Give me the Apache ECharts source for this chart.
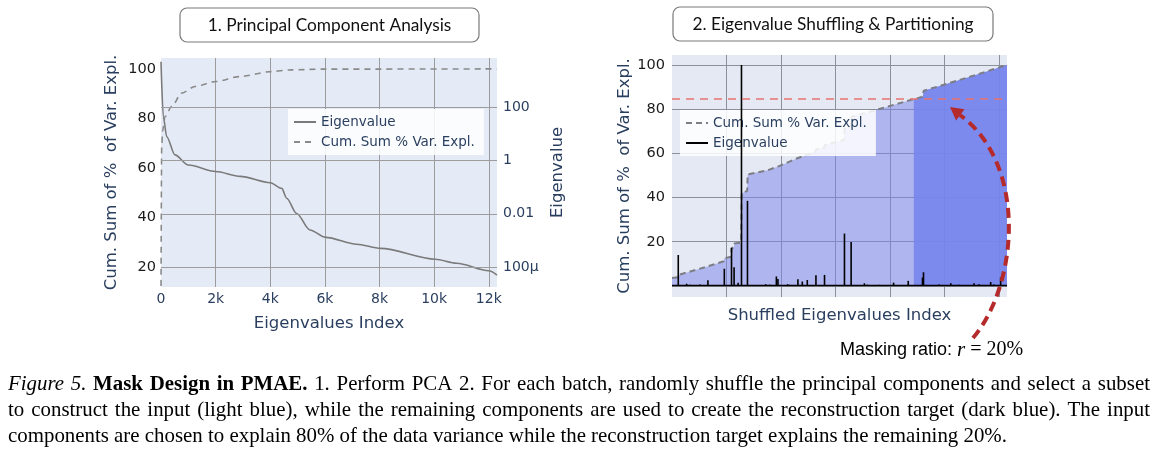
<!DOCTYPE html>
<html>
<head>
<meta charset="utf-8">
<script src="https://cdn.jsdelivr.net/npm/echarts@6/dist/echarts.min.js"></script>
<style>
  html, body { margin: 0; padding: 0; background: #fff; }
  #main { width: 1156px; height: 460px; }
</style>
</head>
<body>
<div id="main"></div>
<script>
// Panel 1: PCA, eigenvalue (log, right axis) and cumulative % variance (left axis)
const pcaIdx = [0, 85, 210, 510, 1000, 2000, 2900, 4000, 4420, 4600, 4965, 5450, 6030, 7160, 8040, 10040, 10820, 12000, 12300];
const pcaEig = [5000, 43, 7.7, 1.6, 0.67, 0.38, 0.25, 0.145, 0.089, 0.038, 0.0102, 0.00245, 0.00129, 0.00071, 0.0005, 0.000195, 0.000138, 0.0000724, 0.00005];
const pcaCumIdx = [0, 25, 60, 146, 390, 757, 1244, 2013, 2890, 4025, 4720, 5930, 12300];
const pcaCum = [8, 68.6, 75, 80.7, 84.8, 90.2, 92.9, 94.9, 96.9, 98.9, 99.6, 99.9, 100];
const pcaEigTicks = [100, 1, 0.01, 0.0001];
const pcaEigTickText = { '2': '100', '0': '1', '-2': '0.01', '-4': '100μ' };
const pcaEigMin = 1.78e-5, pcaEigMax = 6900;
const idxMax = 12300;

// Panel 2: shuffled eigenvalues, cumulative % and the input / target split
const shufCumIdx = [0, 220, 240, 1300, 1900, 1930, 2170, 2190, 2270, 2290, 2540, 2560, 2760, 2780, 3500, 3950, 4600, 5260, 5280, 5590, 5610, 6320, 6340, 6570, 6590, 7357, 8870, 9210, 9240, 10850, 12300];
const shufCum = [3.6, 3.9, 5.0, 8.8, 11.2, 12.6, 13.2, 17.0, 17.5, 19.2, 19.6, 42.0, 43.0, 50.5, 52.3, 54.3, 57.8, 60.7, 61.7, 62.6, 63.7, 66.1, 71.4, 72.1, 76.6, 79.2, 84.5, 85.6, 88.3, 94.3, 100];
const shufSpikeIdx = [230, 538, 659, 1025, 1318, 1921, 2185, 2280, 2427, 2551, 2771, 3221, 3440, 3587, 3832, 3890, 4246, 4319, 4623, 4784, 4967, 5285, 5600, 5783, 6332, 6577, 7064, 7174, 7613, 8136, 8345, 8674, 9197, 9234, 9809, 10237, 10541, 11090, 11273, 11701, 11822, 12067];
const shufSpikeVal = [14.0, 1.0, 0.5, 0.6, 2.6, 7.8, 17.3, 8.5, 1.5, 100, 38.5, 0.4, 0.8, 0.6, 4.3, 3.2, 0.8, 0.5, 3.0, 2.0, 2.7, 4.8, 5.0, 0.4, 23.7, 19.9, 1.2, 0.6, 0.5, 1.5, 0.4, 2.3, 3.8, 6.2, 0.6, 1.2, 0.5, 1.2, 0.8, 1.8, 0.6, 3.8];
const shufFloorIdx = [0, 12300];
const shufFloor = [0.2, 0.2];
const splitIdx = 8870;
const targetLevel = 84.6;

const captionLines = [
  { justify: true, parts: [['i', 'Figure 5.'], ['b', 'Mask Design in PMAE.'], ['n', '1. Perform PCA 2. For each batch, randomly shuffle the principal components and select a subset']] },
  { justify: true, parts: [['n', 'to construct the input (light blue), while the remaining components are used to create the reconstruction target (dark blue). The input']] },
  { justify: false, parts: [['n', 'components are chosen to explain 80% of the data variance while the reconstruction target explains the remaining 20%.']] }
];

const AXIS_FONT = '"DejaVu Sans", sans-serif';
const INK = '#2a3f5f';
const CAP_FONT = '"Liberation Serif", "Times New Roman", serif';
const GRID1 = { left: 161, top: 58, width: 336, height: 229 };

const pcaEigData = pcaIdx.map((x, i) => [x, pcaEig[i]]);
const pcaCumData = pcaCumIdx.map((x, i) => [x, pcaCum[i]]);
const shufCumData = shufCumIdx.map((x, i) => [x, shufCum[i]]);
const inputData = shufCumData.filter(d => d[0] <= splitIdx);
const targetData = shufCumData.filter(d => d[0] >= splitIdx);
const spikeData = shufSpikeIdx.map((x, i) => [x, shufSpikeVal[i]]);
const floorData = shufFloorIdx.map((x, i) => [x, shufFloor[i]]);

// caption: measure words so the first two lines are justified like the paper
const ctx = document.createElement('canvas').getContext('2d');
function fontStr(st, size) {
  return (st === 'i' ? 'italic ' : st === 'b' ? 'bold ' : '') + size.toFixed(2) + 'px ' + CAP_FONT;
}
function measure(t, st, size) { ctx.font = fontStr(st, size); return ctx.measureText(t).width; }
let capSize = 20;
capSize = capSize * 999 / measure(captionLines[2].parts[0][1], 'n', capSize);

const capX = 8, capW = 1142, capY = [385, 411, 437];
const captionEls = [];
captionLines.forEach((line, li) => {
  const words = [];
  line.parts.forEach(([st, txt]) => txt.split(' ').forEach(w => words.push({ st, w, width: measure(w, st, capSize) })));
  const total = words.reduce((s, w) => s + w.width, 0);
  const gap = line.justify ? (capW - total) / (words.length - 1) : measure(' ', 'n', capSize);
  let x = capX;
  words.forEach(w => {
    captionEls.push({
      type: 'text', x: x, y: capY[li], z: 100,
      style: { text: w.w, font: fontStr(w.st, capSize), fill: '#000', align: 'left', verticalAlign: 'middle' }
    });
    x += w.width + gap;
  });
});

const chart = echarts.init(document.getElementById('main'));

const legendCommon = {
  orient: 'vertical',
  backgroundColor: 'rgba(255,255,255,0.85)',
  padding: [6, 9, 6, 5],
  itemGap: 6,
  itemWidth: 22,
  itemHeight: 12,
  selectedMode: false,
  itemStyle: { opacity: 0 },
  textStyle: { color: INK, fontSize: 13.5, fontFamily: AXIS_FONT }
};
const nameStyle = { color: INK, fontSize: 16.5, fontFamily: AXIS_FONT };
const evenDecade = v => {
  const e = Math.log10(v), r = Math.round(e);
  if (Math.abs(e - r) > 1e-6) return '';
  return pcaEigTickText[String(r)] || '';
};

chart.setOption({
  animation: false,
  grid: [
    Object.assign({ show: true, backgroundColor: '#e5ebf6', borderWidth: 0 }, GRID1),
    { left: 672, top: 55, width: 335, height: 242, show: true, backgroundColor: '#e4e9f4', borderWidth: 0 }
  ],
  legend: [
    Object.assign({ left: 288, top: 109, data: ['Eigenvalue', 'Cum. Sum % Var. Expl.'] }, legendCommon),
    Object.assign({ left: 680, top: 110, data: ['Cum. Sum % Var. Expl. (shuffled)', 'Eigenvalue (shuffled)'],
      formatter: n => n.replace(' (shuffled)', '') }, legendCommon)
  ],
  xAxis: [
    {
      gridIndex: 0, type: 'value', min: 0, max: idxMax, interval: 2000,
      axisLine: { show: false }, axisTick: { show: false },
      axisLabel: { margin: 5, color: INK, fontSize: 14, fontFamily: AXIS_FONT,
        formatter: v => (v % 2000 ? '' : (v ? v / 1000 + 'k' : '0')) },
      splitLine: { show: true, showMinLine: false, showMaxLine: false, lineStyle: { color: '#9c9c9c', width: 1 } },
      name: 'Eigenvalues Index', nameLocation: 'middle', nameGap: 28, nameTextStyle: nameStyle
    },
    {
      gridIndex: 1, type: 'value', min: 0, max: idxMax, interval: 2000,
      axisLine: { show: false }, axisTick: { show: false }, axisLabel: { show: false },
      splitLine: { show: true, showMinLine: false, showMaxLine: false, lineStyle: { color: '#8c8f9c', width: 1 } },
      name: 'Shuffled Eigenvalues Index', nameLocation: 'middle', nameGap: 10, nameTextStyle: nameStyle
    }
  ],
  yAxis: [
    {
      gridIndex: 0, type: 'value', position: 'left', min: 11.9, max: 104.4,
      axisLine: { show: false }, axisTick: { show: false }, splitLine: { show: false },
      axisLabel: { margin: 5, color: '#1a1a1a', fontSize: 14.5, fontFamily: AXIS_FONT,
        formatter: v => (v > 0 && v % 20 === 0 ? String(v) : '') },
      name: 'Cum. Sum of %  of Var. Expl.', nameLocation: 'middle', nameGap: 41, nameTextStyle: nameStyle
    },
    {
      gridIndex: 0, type: 'log', logBase: 10, position: 'right', min: pcaEigMin, max: pcaEigMax,
      axisLine: { show: false }, axisTick: { show: false }, splitLine: { show: false },
      axisLabel: { margin: 6, color: INK, fontSize: 14, fontFamily: AXIS_FONT, formatter: evenDecade },
      name: 'Eigenvalue', nameLocation: 'middle', nameGap: 52, nameTextStyle: nameStyle
    },
    {
      gridIndex: 1, type: 'value', min: -5, max: 104.5,
      axisLine: { show: false }, axisTick: { show: false },
      splitLine: { show: true, showMinLine: false, showMaxLine: false, lineStyle: { color: '#8c8f9c', width: 1 } },
      axisLabel: { margin: 7, color: '#1a1a1a', fontSize: 14.5, fontFamily: AXIS_FONT,
        formatter: v => (v > 0 && v % 20 === 0 ? String(v) : '') },
      name: 'Cum. Sum of %  of Var. Expl.', nameLocation: 'middle', nameGap: 39, nameTextStyle: nameStyle
    }
  ],
  series: [
    // panel 1
    {
      name: 'Eigenvalue', type: 'line', xAxisIndex: 0, yAxisIndex: 1, data: pcaEigData,
      symbol: 'none', smooth: 0.3, smoothMonotone: 'x',
      lineStyle: { color: '#7a7a7a', width: 1.6 }, itemStyle: { color: '#7a7a7a' }, z: 3
    },
    {
      name: 'Cum. Sum % Var. Expl.', type: 'line', xAxisIndex: 0, yAxisIndex: 0, data: pcaCumData,
      symbol: 'none', smooth: 0.3, smoothMonotone: 'x',
      lineStyle: { color: '#8a8a8a', width: 1.6, type: [6, 5] }, itemStyle: { color: '#8a8a8a' }, z: 3
    },
    // panel 2
    {
      name: 'input', type: 'line', xAxisIndex: 1, yAxisIndex: 2, data: inputData, symbol: 'none', silent: true,
      lineStyle: { width: 0, opacity: 0 }, areaStyle: { color: 'rgba(121,132,234,0.5)', opacity: 1 }, z: 1
    },
    {
      name: 'target', type: 'line', xAxisIndex: 1, yAxisIndex: 2, data: targetData, symbol: 'none', silent: true,
      lineStyle: { width: 0, opacity: 0 }, areaStyle: { color: 'rgba(118,132,236,0.95)', opacity: 1 }, z: 1
    },
    {
      name: 'Cum. Sum % Var. Expl. (shuffled)', type: 'line', xAxisIndex: 1, yAxisIndex: 2, data: shufCumData,
      symbol: 'none', lineStyle: { color: '#7d7d85', width: 2, type: [6, 4] }, itemStyle: { color: '#7d7d85' }, z: 3
    },
    {
      name: 'Eigenvalue (shuffled)', type: 'line', xAxisIndex: 1, yAxisIndex: 2, data: floorData,
      symbol: 'none', lineStyle: { color: '#000', width: 1.6 }, itemStyle: { color: '#000' }, z: 4,
      markLine: { silent: true, symbol: 'none', label: { show: false },
        lineStyle: { color: '#e8736d', width: 1.6, type: [8, 6] },
        data: [{ yAxis: targetLevel }] }
    },
    {
      name: 'Eigenvalue (shuffled)', type: 'bar', xAxisIndex: 1, yAxisIndex: 2, data: spikeData,
      barWidth: 1.6, itemStyle: { color: '#000' }, z: 4
    }
  ]
});

// gridlines of the log eigenvalue axis: position from the axis scale, with a log-space fallback
function logTickY(t) {
  let y = chart.convertToPixel({ yAxisIndex: 1 }, t);
  if (Array.isArray(y)) y = y[1];
  if (!isFinite(y)) {
    const lo = Math.log10(pcaEigMin), hi = Math.log10(pcaEigMax);
    y = GRID1.top + (hi - Math.log10(t)) / (hi - lo) * GRID1.height;
  }
  return Math.round(y) + 0.5;
}
const logGridEls = pcaEigTicks.map(t => {
  const gy = logTickY(t);
  return { type: 'line', z: 50, silent: true,
    shape: { x1: GRID1.left, y1: gy, x2: GRID1.left + GRID1.width, y2: gy },
    style: { stroke: '#9c9c9c', lineWidth: 1 } };
});

chart.setOption({
  graphic: logGridEls.concat([
    { type: 'rect', z: 100, shape: { x: 180, y: 8, width: 299, height: 34, r: 7 },
      style: { fill: '#fff', stroke: '#7a7a7a', lineWidth: 1.2 } },
    { type: 'text', z: 101, x: 329.5, y: 25,
      style: { text: '1. Principal Component Analysis', font: '17.3px Lato, "Open Sans", sans-serif', fill: '#111', align: 'center', verticalAlign: 'middle' } },
    { type: 'rect', z: 100, shape: { x: 673, y: 7, width: 320, height: 34, r: 7 },
      style: { fill: '#fff', stroke: '#7a7a7a', lineWidth: 1.2 } },
    { type: 'text', z: 101, x: 833, y: 24,
      style: { text: '2. Eigenvalue Shuffling & Partitioning', font: '17.3px Lato, "Open Sans", sans-serif', fill: '#111', align: 'center', verticalAlign: 'middle' } },
    { type: 'bezierCurve', z: 100,
      shape: { x1: 973, y1: 338, x2: 960, y2: 115, cpx1: 1018, cpy1: 285, cpx2: 1028, cpy2: 165 },
      style: { stroke: '#b52a2a', lineWidth: 4, lineDash: [10, 6], fill: null } },
    { type: 'polygon', z: 100,
      shape: { points: [[950, 107], [964.5, 109.3], [956.1, 120.5]] },
      style: { fill: '#b52a2a' } },
    { type: 'text', z: 101, x: 840, y: 350,
      style: {
        text: '{a|Masking ratio: }{m|r}{b| = 20%}',
        rich: {
          a: { fontFamily: '"Liberation Sans", Arial, sans-serif', fontSize: 18, fill: '#000' },
          m: { fontFamily: CAP_FONT, fontStyle: 'italic', fontSize: 21, fill: '#000' },
          b: { fontFamily: CAP_FONT, fontSize: 20, fill: '#000' }
        },
        fill: '#000', align: 'left', verticalAlign: 'middle'
      } }
  ], captionEls)
});
</script>
</body>
</html>
